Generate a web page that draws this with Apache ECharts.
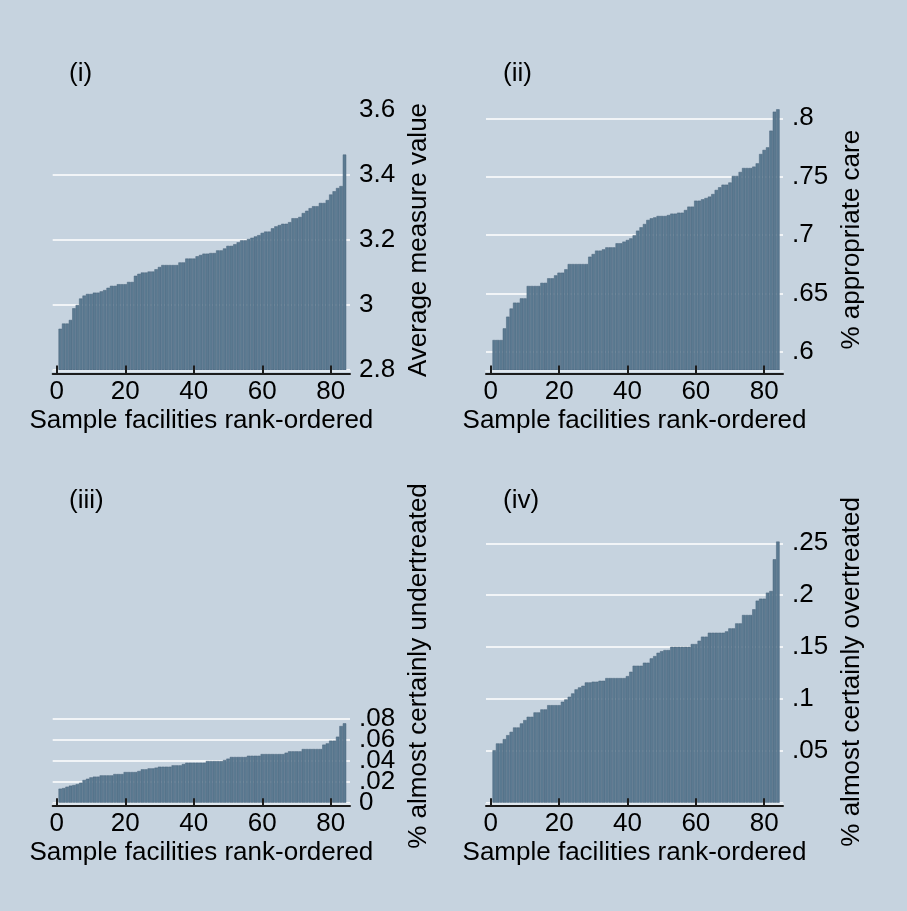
<!DOCTYPE html>
<html><head><meta charset="utf-8">
<script src="https://cdn.jsdelivr.net/npm/echarts@6/dist/echarts.min.js"></script>
<style>html,body{margin:0;padding:0;background:#c6d3df}#c{width:907px;height:911px}</style>
</head><body><div id="c"></div><script>
// ---------- DATA ----------
const ranks = [1,2,3,4,5,6,7,8,9,10,11,12,13,14,15,16,17,18,19,20,21,22,23,24,25,26,27,28,29,30,31,32,33,34,35,36,37,38,39,40,41,42,43,44,45,46,47,48,49,50,51,52,53,54,55,56,57,58,59,60,61,62,63,64,65,66,67,68,69,70,71,72,73,74,75,76,77,78,79,80,81,82,83,84];
const xTicks = [0,20,40,60,80];

const avgMeasure = [2.927,2.943,2.943,2.954,2.99,3.0,3.02,3.029,3.034,3.034,3.038,3.038,3.042,3.046,3.053,3.059,3.059,3.064,3.064,3.064,3.071,3.071,3.09,3.096,3.1,3.1,3.103,3.103,3.11,3.117,3.123,3.123,3.123,3.123,3.123,3.131,3.131,3.143,3.143,3.143,3.15,3.154,3.158,3.158,3.16,3.16,3.168,3.168,3.174,3.182,3.182,3.187,3.193,3.199,3.199,3.203,3.207,3.211,3.215,3.222,3.226,3.226,3.236,3.242,3.246,3.25,3.25,3.255,3.267,3.267,3.271,3.283,3.29,3.298,3.304,3.304,3.314,3.314,3.323,3.34,3.35,3.36,3.366,3.463];
const appropriateCare = [0.61,0.61,0.61,0.62,0.63,0.637,0.642,0.642,0.6457,0.6457,0.6563,0.6563,0.6563,0.6563,0.659,0.659,0.6629,0.6629,0.6654,0.6677,0.6677,0.6706,0.6751,0.6751,0.6751,0.6751,0.6751,0.6751,0.6814,0.6837,0.6866,0.6866,0.6877,0.6894,0.6894,0.6894,0.6929,0.6929,0.6943,0.6957,0.6971,0.6997,0.7037,0.7066,0.7094,0.7129,0.7143,0.7151,0.7163,0.7163,0.7163,0.7171,0.7183,0.7183,0.7191,0.7191,0.7214,0.7243,0.7243,0.7294,0.7294,0.7306,0.7317,0.7329,0.7351,0.7386,0.7409,0.7431,0.7431,0.745,0.7506,0.7506,0.754,0.7574,0.7574,0.7574,0.7586,0.7614,0.7694,0.7729,0.7751,0.7894,0.8057,0.8077];
const undertreated = [0.0134,0.014,0.0153,0.0163,0.0169,0.0178,0.0191,0.0217,0.0229,0.0242,0.0249,0.0249,0.0261,0.0261,0.0261,0.0261,0.0274,0.0274,0.0274,0.0293,0.0293,0.0293,0.0293,0.0303,0.0319,0.0319,0.0328,0.0328,0.0335,0.0344,0.0344,0.0344,0.0344,0.0357,0.0357,0.0357,0.037,0.0382,0.0382,0.0382,0.0382,0.0382,0.0382,0.0398,0.0398,0.0398,0.0398,0.0398,0.0408,0.0421,0.0437,0.0437,0.0437,0.0437,0.0437,0.0449,0.0449,0.0449,0.0449,0.0465,0.0465,0.0465,0.0465,0.0465,0.0465,0.0465,0.0478,0.0491,0.0491,0.0491,0.0491,0.0513,0.0513,0.0513,0.0513,0.0513,0.0513,0.0555,0.0567,0.0593,0.0593,0.0631,0.0733,0.0759];
const overtreated = [0.0506,0.0571,0.0571,0.0613,0.0651,0.0683,0.0725,0.0725,0.0764,0.0796,0.0828,0.0828,0.087,0.087,0.0899,0.0899,0.094,0.094,0.094,0.094,0.0973,0.0995,0.1021,0.1053,0.1092,0.1111,0.1127,0.1159,0.1159,0.1166,0.1166,0.1175,0.1175,0.1201,0.1201,0.1201,0.1201,0.1201,0.1201,0.122,0.1262,0.132,0.132,0.132,0.1349,0.1349,0.1391,0.1413,0.1445,0.146,0.1471,0.1471,0.1503,0.1503,0.1503,0.1503,0.1503,0.1503,0.1529,0.1529,0.1561,0.16,0.16,0.1638,0.1638,0.1638,0.1638,0.1638,0.1651,0.168,0.168,0.1728,0.1728,0.1809,0.1809,0.1809,0.1864,0.1947,0.1966,0.1966,0.2024,0.204,0.2346,0.2516];

const yLabels1 = [2.8,3.0,3.2,3.4,3.6];
const yGrid1 = [2.8,3.0,3.2,3.4];
const yLabels2 = [0.6,0.65,0.7,0.75,0.8];
const yGrid2 = [0.6,0.65,0.7,0.75,0.8];
const yLabels3 = [0,0.04,0.08];
const yLabels3b = [0.02,0.06];
const yGrid3 = [0,0.02,0.04,0.06,0.08];
const yLabels4 = [0.05,0.1,0.15,0.2,0.25];
const yGrid4 = [0,0.05,0.1,0.15,0.2,0.25];

const panelTags = ['(i)','(ii)','(iii)','(iv)'];
const yTitles = ['Average measure value','% appropriate care','% almost certainly undertreated','% almost certainly overtreated'];
const xTitle = 'Sample facilities rank-ordered';

// ---------- LAYOUT / STYLE ----------
const FONT = '"Liberation Sans", Arial, sans-serif';
const FS = 26;
const TXT = '#000';
const BG = '#c6d3df';
const panels = [
  {grid:{left:52.7, top:110, width:297.3, height:260}, x:[-1.2,85.6], y:[2.8,3.6], labels:yLabels1, lines:yGrid1, data:avgMeasure, tag:[64,56]},
  {grid:{left:486, top:109.3, width:297, height:260.7}, x:[-1.4,85.5], y:[0.5843,0.8077], labels:yLabels2, lines:yGrid2, data:appropriateCare, tag:[498,56]},
  {grid:{left:52.7, top:719, width:297.3, height:83.7}, x:[-1.2,85.6], y:[0,0.08], labels:yLabels3, lines:yGrid3, data:undertreated, tag:[64,483]},
  {grid:{left:486, top:541, width:297, height:261.7}, x:[-1.4,85.5], y:[0,0.2522], labels:yLabels4, lines:yGrid4, data:overtreated, tag:[498,483]}
];
const fmt = v => { const s = String(Math.round(v*10000)/10000); return s.replace(/^0\./,'.'); };
const labelStyle = {formatter:fmt, fontSize:FS, color:TXT, margin:9, fontFamily:FONT,
                    hideOverlap:false, showMinLabel:true, showMaxLabel:true};

const option = {
  backgroundColor: BG,
  animation: false,
  textStyle: {fontFamily: FONT},
  title: panels.map((p,i)=>({text: panelTags[i], left: p.tag[0], top: p.tag[1],
      textStyle:{fontSize:FS, fontWeight:'normal', color:TXT, fontFamily:FONT}})),
  grid: panels.map(p=>Object.assign({containLabel:false}, p.grid)),
  xAxis: [],
  yAxis: [],
  series: [],
  graphic: [{
    type:'text', x:419, y:666, rotation: Math.PI/2,
    style:{text: yTitles[2], fontSize:FS, fill:TXT, fontFamily:FONT, align:'center', verticalAlign:'middle'}
  }]
};
panels.forEach((p,i)=>{
  option.xAxis.push({
    gridIndex:i, type:'value', position:'bottom', min:p.x[0], max:p.x[1], offset:3.5, z:5,
    axisLine:{show:true, onZero:false, lineStyle:{color:'#1c1c1c', width:2}},
    axisTick:{show:true, inside:true, length:8, customValues:xTicks, lineStyle:{color:'#1c1c1c', width:2}},
    axisLabel:{customValues:xTicks, fontSize:FS, color:TXT, margin:5, fontFamily:FONT, hideOverlap:false},
    splitLine:{show:false},
    name:xTitle, nameLocation:'middle', nameGap:34,
    nameTextStyle:{fontSize:FS, color:TXT, fontFamily:FONT}
  });
  option.yAxis.push({
    gridIndex:i, type:'value', position:'right', offset:0, min:p.y[0], max:p.y[1],
    axisLine:{show:false},
    axisTick:{show:false, customValues:p.lines},
    splitLine:{show:true, showMinLine:true, showMaxLine:true, lineStyle:{color:'#ffffff', width:1.6}},
    axisLabel:Object.assign({customValues:p.labels}, labelStyle),
    name: i===2 ? '' : yTitles[i], nameLocation:'middle', nameRotate:90, nameGap:56,
    nameTextStyle:{fontSize:FS, color:TXT, fontFamily:FONT}
  });
  option.series.push({
    type:'bar', xAxisIndex:i, yAxisIndex:i, silent:true, z:2,
    barCategoryGap:'0%', barGap:'0%',
    itemStyle:{color:'#5b7a91', borderColor:'#48637a', borderWidth:0.5},
    data: ranks.map((r,k)=>[r, p.data[k]])
  });
});
// light strip between bars and axis line
panels.forEach((p,i)=>{
  option.xAxis.push({
    gridIndex:i, type:'value', position:'bottom', min:p.x[0], max:p.x[1], offset:1.2, z:4,
    axisLine:{show:true, onZero:false, lineStyle:{color:'#dfe7ee', width:2}},
    axisTick:{show:false}, axisLabel:{show:false}, splitLine:{show:false}
  });
});
// extra label axis for panel (iii) so its crowded labels are all drawn
option.yAxis.push({
  gridIndex:2, type:'value', position:'right', offset:0, min:panels[2].y[0], max:panels[2].y[1],
  axisLine:{show:false}, axisTick:{show:false, customValues:yLabels3b}, splitLine:{show:false},
  axisLabel:Object.assign({customValues:yLabels3b}, labelStyle)
});
const chart = echarts.init(document.getElementById('c'), null, {renderer:'canvas'});
chart.setOption(option);
</script></body></html>
